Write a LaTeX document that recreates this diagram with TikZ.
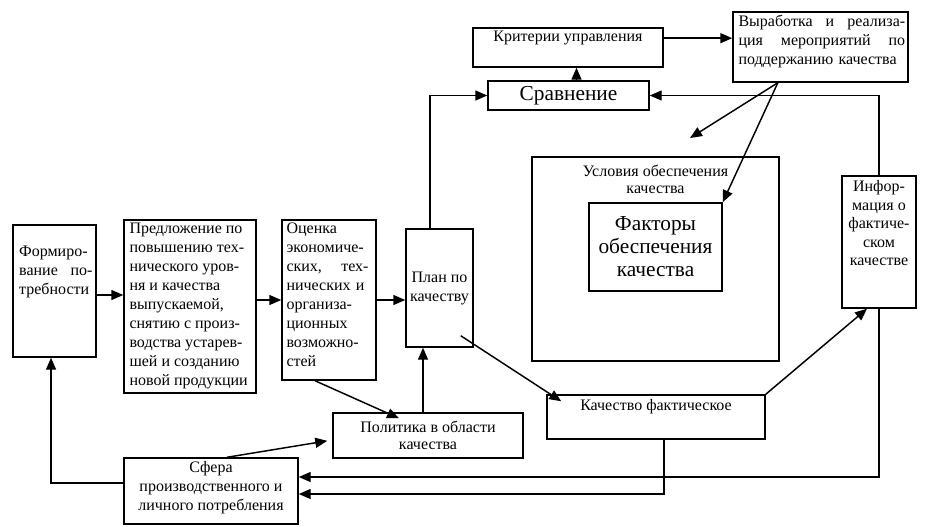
\documentclass[tikz,border=0pt]{standalone}
\usepackage{fontspec}
\setmainfont{Liberation Serif}
\usetikzlibrary{arrows.meta, positioning}

\tikzset{
  box/.style={draw, line width=1.1pt, inner sep=0pt},
  txt/.style={inner sep=0pt, font=\fontsize{12}{14.25}\selectfont},
  big/.style={font=\fontsize{16}{17.25}\selectfont},
  arr/.style={line width=1.1pt, -{Triangle[length=9pt,width=7.5pt]}}
}

\begin{document}
\begin{tikzpicture}[x=0.75pt,y=0.75pt,yscale=-1,xscale=1]
    \useasboundingbox (0,0) rectangle (938,526);

    % Boxes
    \node[box, minimum width=62.25pt, minimum height=99pt] (form) at (54.5,291) {};
    \node[box, minimum width=99pt, minimum height=129.75pt] (pred) at (190,306.5) {};
    \node[box, minimum width=70.5pt, minimum height=120pt] (ocen) at (329,300) {};
    \node[box, txt, align=center, minimum width=50.25pt, minimum height=88.5pt] (plan) at (439.5,288) {План по\\качеству};
    \node[box, txt, align=center, font=\fontsize{12}{12.75}\selectfont, minimum width=142.5pt, minimum height=33.75pt] (polit) at (428,435.5) {Политика в области\\качества};
    \node[box, minimum width=130.5pt, minimum height=49.5pt] (sfera) at (211,491) {};
    \node[box, minimum width=163.5pt, minimum height=33pt] (kach) at (656,417) {};
    \node[box, minimum width=185.25pt, minimum height=153pt] (usl) at (655.5,259) {};
    \node[box, big, align=center, minimum width=99.75pt, minimum height=66pt] (fakt) at (655.5,247) {Факторы\\обеспечения\\качества};
    \node[box, minimum width=55.5pt, minimum height=99pt] (info) at (879,242) {};
    \node[box, big, minimum width=120.75pt, minimum height=21.75pt] (srav) at (568.5,95.5) {Сравнение};
    \node[box, minimum width=142.5pt, minimum height=29.25pt] (krit) at (568,47.5) {};
    \node[box, minimum width=131.25pt, minimum height=52.5pt] (vyr) at (820.5,47) {};

    % Text Node
    \node[txt, align=left, text width=55pt, below right=16pt and 5pt of form.north west] (form-t) {Формиро-\\вание \hfill по-\\требности};
    \node[txt, align=left, below right=2.25pt and 4.5pt of pred.north west] (pred-t) {Предложение по\\повышению тех-\\нического уров-\\ня и качества\\выпускаемой,\\снятию с произ-\\водства устарев-\\шей и созданию\\новой продукции};
    \node[txt, align=left, text width=61.5pt, below right=2.25pt and 3.75pt of ocen.north west] (ocen-t) {Оценка\\экономиче-\\ских, \hfill тех-\\нических и\\организа-\\ционных\\возможно-\\стей};
    \node[txt, below=2.25pt of krit.north] (krit-t) {Критерии управления};
    \node[txt, align=left, text width=125pt, below right=3pt and 4.5pt of vyr.north west] (vyr-t) {Выработка \hfill и \hfill реализа-\\ция \hfill мероприятий \hfill по\\поддержанию качества};
    \node[txt, align=center, font=\fontsize{12}{12.75}\selectfont, below=6.75pt of usl.north] (usl-t) {Условия обеспечения\\качества};
    \node[txt, align=center, font=\fontsize{12}{13.9}\selectfont, below=3.75pt of info.north] (info-t) {Инфор-\\мация о\\фактиче-\\ском\\качестве};
    \node[txt, below=3.75pt of kach.north] (kach-t) {Качество фактическое};
    \node[txt, align=center, below=3pt of sfera.north] (sfera-t) {Сфера\\производственного и\\личного потребления};

    % free ends
    \coordinate (vyr-o) at ([xshift=-32pt]vyr.south);
    \coordinate (usl-in) at (690,138);

    % Arrows
    \draw[arr] ([yshift=3pt]form.east) -- ([yshift=3pt]form.east -| pred.west);
    \draw[arr] (pred.east |- ocen.east) -- (ocen.west);
    \draw[arr] (ocen.east) -- (ocen.east -| plan.west);
    \draw[arr] ([xshift=-7pt]plan.north) |- (srav.west);
    \draw[arr] ([xshift=6pt]srav.north) -- ([xshift=6pt]srav.north |- krit.south);
    \draw[arr] ([yshift=-7pt]krit.east) -- ([yshift=-7pt]krit.east -| vyr.west);
    \draw[arr] (vyr-o) -- (usl-in);
    \draw[arr] (vyr-o) -- (fakt.north east);
    \draw[arr] (info.north) |- (srav.east);
    \draw[arr] (info.south) |- ([yshift=-10.5pt]sfera.east);
    \draw[arr] ([xshift=6pt]kach.south) |- ([yshift=2.25pt]sfera.east);
    \draw[arr] (kach.north east) -- ([xshift=-9pt]info.south);
    \draw[arr] ([shift={(-9.75pt,-9pt)}]plan.south east) -- ([shift={(11.25pt,5.25pt)}]kach.north west);
    \draw[arr] ([xshift=-10.5pt]ocen.south) -- ([shift={(-21.75pt,4.5pt)}]polit.north);
    \draw[arr] ([xshift=-3.75pt]polit.north) -- ([xshift=-3.75pt]polit.north |- plan.south);
    \draw[arr] ([xshift=12pt]sfera.north) -- ([shift={(-3.75pt,4pt)}]polit.west);
    \draw[arr] ([yshift=-6pt]sfera.west) -| ([xshift=-2.6pt]form.south);

\end{tikzpicture}
\end{document}
